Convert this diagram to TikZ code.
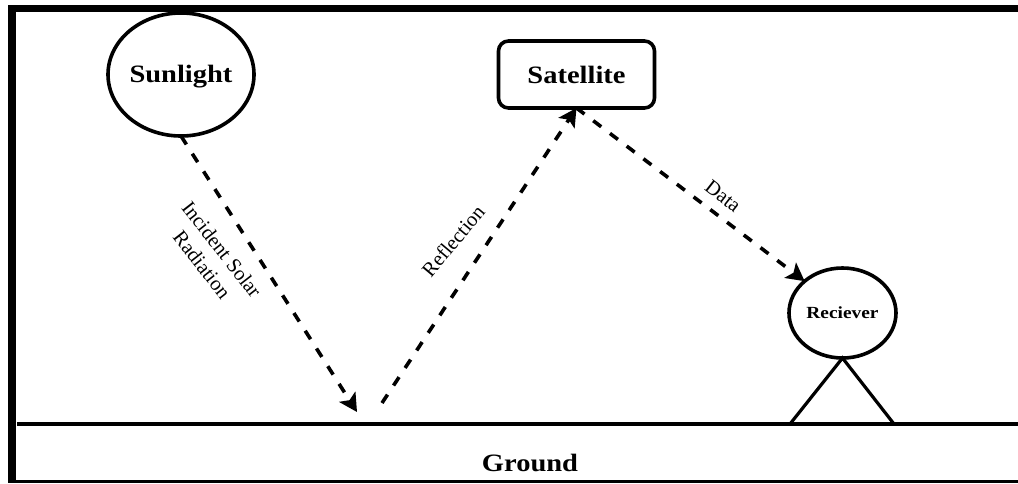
\documentclass[tikz,border=0pt]{standalone}
\usepackage{fontspec}
\setmainfont{Liberation Serif}
\usetikzlibrary{arrows.meta,shapes.geometric}
\newcommand{\squat}[1]{\scalebox{1.14}[1]{#1}}
\tikzset{
  px/.style={x=1pt,y=-1pt},
  solidline/.style={draw=black,line width=3.2pt},
  outlined/.style={draw=black,line width=3.6pt,inner sep=0pt,outer sep=0pt},
  flowtip/.style={-{Stealth[length=18pt,width=19pt,inset=4pt]}},
  flow/.style={draw=black,line width=3.6pt,dash pattern=on 10pt off 11pt,flowtip},
  boldlabel/.style={font=\bfseries\fontsize{25}{28}\selectfont,text=black},
  edgelabel/.style={font=\fontsize{20.5}{25}\selectfont,text=black,align=center},
}
\begin{document}
\begin{tikzpicture}[px]
\useasboundingbox (0,0) rectangle (1018,483);
\fill[white] (0,0) rectangle (1018,483);
\fill[black] (8,4.5) rectangle (1018,12);
\fill[black] (8,4.5) rectangle (16,483);
\fill[black] (8,480) rectangle (1018,483);
\coordinate (gl) at (17,424);
\coordinate (gr) at (1018,424);
\draw[solidline] (gl) -- (gr);
\node[ellipse,outlined,minimum width=146pt,minimum height=123pt,boldlabel] (sun) at (181,74.5) {\raisebox{-8pt}[0pt][0pt]{\squat{Sunlight}}};
\node[rectangle,rounded corners=10pt,outlined,minimum width=156pt,minimum height=67pt,boldlabel] (sat) at (576.5,74.5) {\squat{Satellite}};
\node[ellipse,outlined,minimum width=107pt,minimum height=90pt,font=\bfseries\fontsize{17}{20}\selectfont] (rx) at (842.5,313) {\squat{Reciever}};
\coordinate (gi) at (357,412);
\coordinate (gs) at (382,403);
\coordinate (fl) at (790,424);
\coordinate (fr) at (894,424);
\draw[solidline] (fl) -- (rx.south) -- (fr);
\draw[flow] (sun.south) -- (gi);
\draw[flow] (gs) -- (sat.south);
\draw[flow] (sat.south) -- (rx.north west);
\node[edgelabel,rotate=-52] (l1) at (212,257) {Incident Solar\\Radiation};
\node[edgelabel,rotate=50] (l2) at (453,241) {Reflection};
\node[edgelabel,rotate=-38] (l3) at (723,196) {Data};
\node[boldlabel] (g) at (530,463) {\squat{Ground}};
\end{tikzpicture}
\end{document}
